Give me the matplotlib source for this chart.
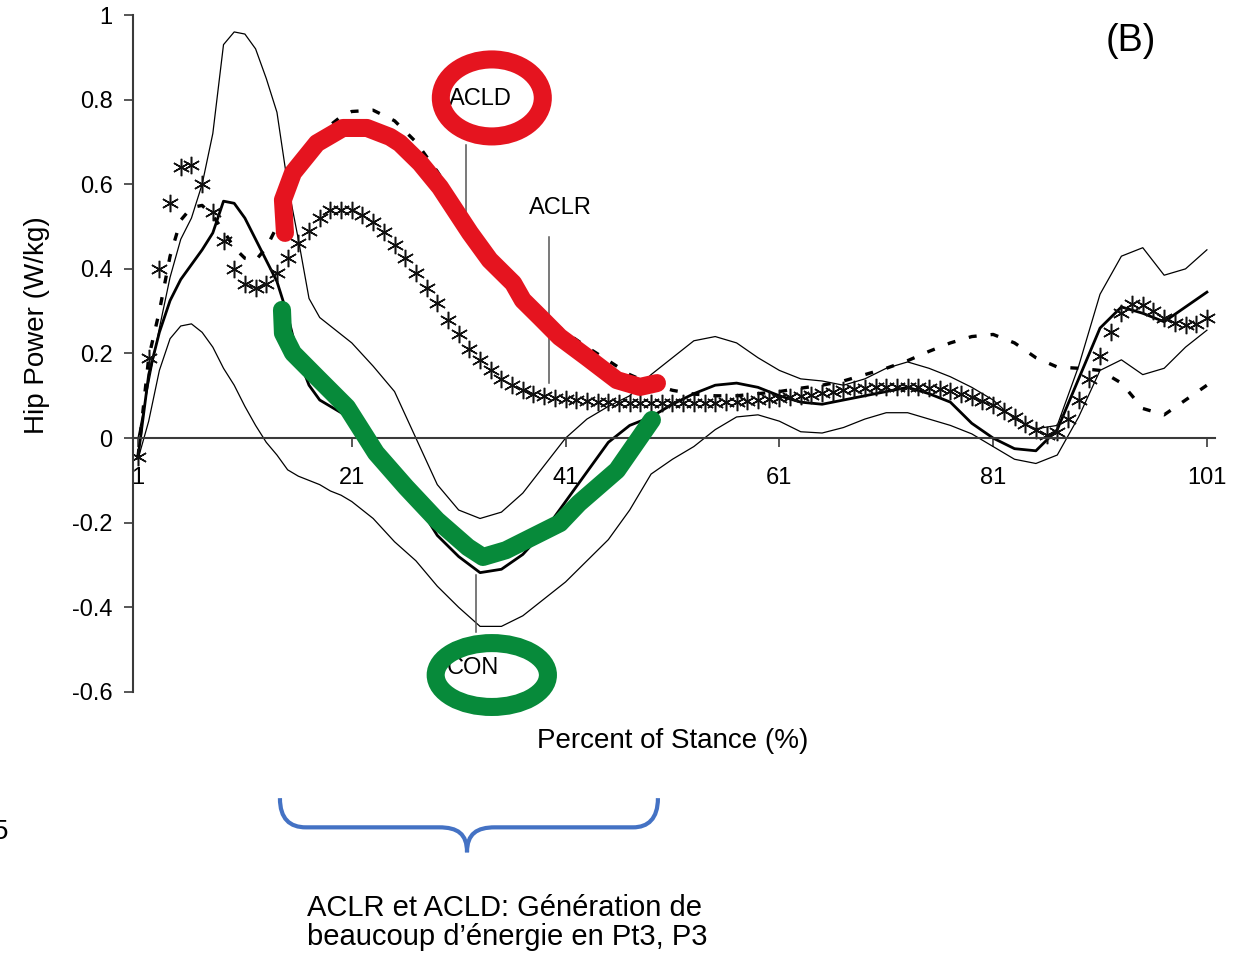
import numpy as np
import matplotlib
matplotlib.use('Agg')
import matplotlib.pyplot as plt
from matplotlib.patches import Ellipse, PathPatch
from matplotlib.path import Path

plt.rcParams['font.family'] = ['Liberation Sans', 'DejaVu Sans']

# percent of stance for the line series (1..20 every 1, then every 2)
pct_line = list(range(1, 21)) + list(range(21, 102, 2))
pct_all = list(range(1, 102))

con_mean = [-0.045, 0.15, 0.25, 0.325, 0.375, 0.41, 0.445, 0.485, 0.56, 0.555,
            0.52, 0.47, 0.42, 0.37, 0.29, 0.19, 0.125, 0.09, 0.075, 0.06,
            0.04, -0.01, -0.07, -0.15, -0.23, -0.28, -0.318, -0.31, -0.275, -0.22,
            -0.15, -0.08, -0.01, 0.03, 0.05, 0.08, 0.105, 0.125, 0.13, 0.12,
            0.10, 0.085, 0.08, 0.09, 0.10, 0.11, 0.12, 0.105, 0.085, 0.035,
            0.0, -0.025, -0.03, 0.02, 0.14, 0.26, 0.31, 0.295, 0.275, 0.31, 0.345]

con_upper = [0.0, 0.13, 0.26, 0.38, 0.47, 0.52, 0.60, 0.72, 0.93, 0.96,
             0.955, 0.92, 0.85, 0.77, 0.60, 0.47, 0.33, 0.285, 0.265, 0.245,
             0.225, 0.17, 0.11, 0.0, -0.11, -0.17, -0.19, -0.175, -0.13, -0.065,
             0.0, 0.045, 0.075, 0.10, 0.15, 0.19, 0.23, 0.24, 0.225, 0.19,
             0.16, 0.14, 0.135, 0.125, 0.14, 0.165, 0.18, 0.165, 0.145, 0.12,
             0.09, 0.045, 0.022, 0.03, 0.17, 0.34, 0.43, 0.45, 0.385, 0.40, 0.445]

con_lower = [-0.05, 0.04, 0.16, 0.235, 0.265, 0.27, 0.25, 0.215, 0.165, 0.125,
             0.075, 0.03, -0.01, -0.04, -0.075, -0.09, -0.10, -0.11, -0.125, -0.135,
             -0.15, -0.19, -0.245, -0.29, -0.35, -0.40, -0.445, -0.445, -0.42, -0.38,
             -0.34, -0.29, -0.24, -0.17, -0.085, -0.05, -0.02, 0.02, 0.05, 0.055,
             0.04, 0.015, 0.012, 0.025, 0.045, 0.06, 0.06, 0.045, 0.03, 0.01,
             -0.02, -0.05, -0.06, -0.04, 0.05, 0.16, 0.185, 0.15, 0.165, 0.215, 0.255]

acld = [-0.045, 0.19, 0.30, 0.43, 0.515, 0.545, 0.55, 0.525, 0.49, 0.45,
        0.425, 0.42, 0.45, 0.50, 0.56, 0.62, 0.67, 0.71, 0.74, 0.76,
        0.772, 0.775, 0.75, 0.70, 0.63, 0.55, 0.47, 0.40, 0.34, 0.29,
        0.25, 0.215, 0.183, 0.15, 0.128, 0.113, 0.104, 0.10, 0.10, 0.105,
        0.11, 0.118, 0.125, 0.135, 0.15, 0.165, 0.183, 0.205, 0.225, 0.24,
        0.245, 0.225, 0.19, 0.168, 0.165, 0.16, 0.13, 0.07, 0.055, 0.09, 0.125]

aclr = [-0.045, 0.19, 0.40, 0.555, 0.64, 0.645, 0.60, 0.535, 0.465, 0.40,
        0.365, 0.355, 0.365, 0.39, 0.425, 0.46, 0.49, 0.52, 0.54, 0.54,
        0.54, 0.527, 0.51, 0.487, 0.456, 0.425, 0.39, 0.355, 0.32, 0.28,
        0.245, 0.21, 0.185, 0.16, 0.14, 0.125, 0.113, 0.105, 0.10, 0.095,
        0.092, 0.09, 0.088, 0.086, 0.085, 0.084, 0.083, 0.082, 0.082, 0.082,
        0.082, 0.082, 0.082, 0.083, 0.084, 0.085, 0.086, 0.088, 0.09, 0.093,
        0.095, 0.097, 0.10, 0.103, 0.106, 0.11, 0.113, 0.116, 0.118, 0.12,
        0.12, 0.12, 0.12, 0.12, 0.118, 0.115, 0.112, 0.105, 0.097, 0.088,
        0.078, 0.064, 0.05, 0.033, 0.018, 0.008, 0.015, 0.045, 0.09, 0.14,
        0.195, 0.25, 0.295, 0.318, 0.315, 0.30, 0.285, 0.272, 0.268, 0.27, 0.285]

x_ticks = [1, 21, 41, 61, 81, 101]
y_ticks = [-0.6, -0.4, -0.2, 0, 0.2, 0.4, 0.6, 0.8, 1]
y_tick_labels = ['-0.6', '-0.4', '-0.2', '0', '0.2', '0.4', '0.6', '0.8', '1']

# hand-drawn highlight strokes (data coords)
red_x = [14.75, 14.56, 15.5, 17.74, 20.18, 22.42, 24.57, 25.5, 27.4, 29.25,
         32.06, 33.9, 36.1, 37.0, 38.6, 40.45, 43.0, 45.8, 47.96, 49.55]
red_y = [0.485, 0.563, 0.627, 0.697, 0.733, 0.733, 0.712, 0.697, 0.65, 0.593,
         0.485, 0.421, 0.366, 0.326, 0.286, 0.239, 0.191, 0.137, 0.121, 0.130]
green_x = [14.47, 14.56, 15.5, 17.74, 20.55, 23.26, 26.07, 28.97, 31.87, 33.27,
           35.42, 40.48, 42.25, 45.81, 49.08]
green_y = [0.303, 0.248, 0.201, 0.144, 0.073, -0.035, -0.116, -0.194, -0.258, -0.281,
           -0.265, -0.201, -0.154, -0.076, 0.043]

fig = plt.figure(figsize=(12.55, 9.56), dpi=100)
ax = fig.add_axes([0.1057, 0.2762, 0.8628, 0.7081])

ax.plot(pct_line, con_upper, color='black', lw=0.9)
ax.plot(pct_line, con_lower, color='black', lw=0.9)
ax.plot(pct_line, con_mean, color='black', lw=2.0)
ax.plot(pct_line, acld, color='black', lw=2.4, linestyle=(0, (2.4, 4.2)))
ax.plot(pct_all, aclr, linestyle='none', marker=(6, 2, 0), ms=12.5, mew=1.1,
        color='#111111')

ax.set_xlim(0.5, 101.8)
ax.set_ylim(-0.6, 1)
ax.spines['top'].set_visible(False)
ax.spines['right'].set_visible(False)
ax.spines['bottom'].set_position(('data', 0))
for s in ['left', 'bottom']:
    ax.spines[s].set_color('#3a3a3a')
    ax.spines[s].set_linewidth(1.5)

ax.set_xticks(x_ticks)
ax.set_xticklabels([str(t) for t in x_ticks])
ax.set_yticks(y_ticks)
ax.set_yticklabels(y_tick_labels)
ax.tick_params(axis='x', direction='out', length=6.5, width=1.2, pad=14,
               labelsize=17, color='#3a3a3a')
ax.tick_params(axis='y', direction='out', length=6.5, width=1.2, pad=8,
               labelsize=17, color='#3a3a3a')

ax.text(0.499, -0.0724, 'Percent of Stance (%)', transform=ax.transAxes,
        ha='center', va='center', fontsize=20)
ax.text(-0.0884, 0.542, 'Hip Power (W/kg)', transform=ax.transAxes,
        ha='center', va='center', rotation=90, fontsize=20)
ax.text(0.922, 0.962, '(B)', transform=ax.transAxes, ha='center', va='center',
        fontsize=27)

# group labels with leader lines
ax.text(33.0, 0.801, 'ACLD', ha='center', va='center', fontsize=17)
ax.plot([31.68, 31.68], [0.693, 0.511], color='#555555', lw=1.1)
ax.text(40.48, 0.544, 'ACLR', ha='center', va='center', fontsize=17)
ax.plot([39.45, 39.45], [0.475, 0.13], color='#555555', lw=1.1)
ax.text(32.3, -0.544, 'CON', ha='center', va='center', fontsize=17)
ax.plot([32.6, 32.6], [-0.324, -0.459], color='#555555', lw=1.1)

# highlights
red = '#E5141F'
green = '#078A3A'
ax.plot(red_x, red_y, color=red, lw=13, solid_capstyle='round',
        solid_joinstyle='round', zorder=5)
ax.plot(green_x, green_y, color=green, lw=13, solid_capstyle='round',
        solid_joinstyle='round', zorder=5)
ax.add_patch(Ellipse((34.1, 0.804), 9.54, 0.182, fill=False, ec=red, lw=13,
                     zorder=5, clip_on=False))
ax.add_patch(Ellipse((34.1, -0.560), 10.5, 0.151, fill=False, ec=green, lw=13,
                     zorder=5, clip_on=False))

# curly brace under the plot
brace_verts = [(14.28, -0.851), (14.28, -0.90), (15.2, -0.920), (16.72, -0.920),
               (29.16, -0.920),
               (30.9, -0.920), (31.78, -0.935), (31.78, -0.979),
               (31.78, -0.935), (32.7, -0.920), (34.40, -0.920),
               (47.31, -0.920),
               (48.7, -0.920), (49.64, -0.90), (49.64, -0.851)]
brace_codes = [Path.MOVETO, Path.CURVE4, Path.CURVE4, Path.CURVE4,
               Path.LINETO,
               Path.CURVE4, Path.CURVE4, Path.CURVE4,
               Path.CURVE4, Path.CURVE4, Path.CURVE4,
               Path.LINETO,
               Path.CURVE4, Path.CURVE4, Path.CURVE4]
ax.add_patch(PathPatch(Path(brace_verts, brace_codes), fill=False,
                       ec='#4472C4', lw=3, clip_on=False))

fig.text(307 / 1255, 1 - 908 / 956, 'ACLR et ACLD: Génération de',
         ha='left', va='center', fontsize=21)
fig.text(307 / 1255, 1 - 937 / 956, 'beaucoup d’énergie en Pt3, P3',
         ha='left', va='center', fontsize=21)
# partial glyph at the left edge, cut off as in the source image
fig.text(-0.006, 1 - 832 / 956, '5', ha='left', va='center', fontsize=20)

fig.savefig('out.png', dpi=100)
